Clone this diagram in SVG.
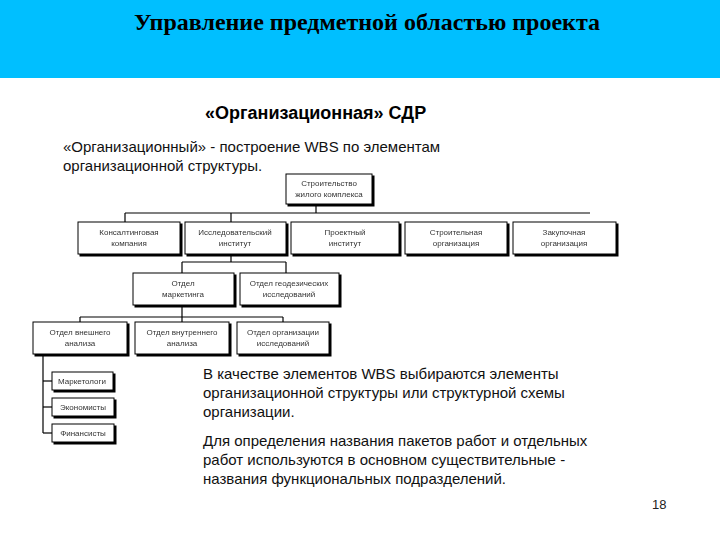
<svg xmlns="http://www.w3.org/2000/svg" width="720" height="540" viewBox="0 0 720 540">
<style>
.b{fill:#fff;stroke:#000;stroke-width:1}
.s{fill:#222}
.t{font-family:"Liberation Sans",Arial,sans-serif;font-size:8px;fill:#333;text-anchor:middle}
.p{font-family:"Liberation Sans",Arial,sans-serif;font-size:15px;fill:#111}
.c line{stroke:#000;stroke-width:1.2}
</style>
<defs>
<filter id="sh" x="-5%" y="-5%" width="115%" height="130%"><feOffset dx="2" dy="2" in="SourceAlpha" result="o"/><feMerge><feMergeNode in="o"/><feMergeNode in="SourceGraphic"/></feMerge></filter>
</defs>
<rect x="0" y="0" width="720" height="78" fill="#00BFFF"/>
<text x="367" y="30" font-family="Liberation Serif,serif" font-weight="bold" font-size="24" text-anchor="middle">Управление предметной областью проекта</text>
<text x="205" y="119" font-family="Liberation Sans,Arial,sans-serif" font-weight="bold" font-size="18">«Организационная» СДР</text>
<text class="p" x="63" y="152">«Организационный» - построение WBS по элементам</text>
<text class="p" x="63" y="171">организационной структуры.</text>
<g class="c">
<line x1="316" y1="205" x2="316" y2="213"/>
<line x1="125" y1="213" x2="590" y2="213"/>
<line x1="125" y1="213" x2="125" y2="222"/>
<line x1="231" y1="213" x2="231" y2="222"/>
<line x1="231" y1="255" x2="231" y2="262"/>
<line x1="182" y1="262" x2="286" y2="262"/>
<line x1="182" y1="262" x2="182" y2="273"/>
<line x1="286" y1="262" x2="286" y2="273"/>
<line x1="182" y1="305" x2="182" y2="317"/>
<line x1="80" y1="317" x2="283" y2="317"/>
<line x1="80" y1="317" x2="80" y2="322"/>
<line x1="182" y1="317" x2="182" y2="322"/>
<line x1="283" y1="317" x2="283" y2="322"/>
<line x1="43" y1="354" x2="43" y2="433"/>
<line x1="43" y1="381" x2="52" y2="381"/>
<line x1="43" y1="407" x2="52" y2="407"/>
<line x1="43" y1="433" x2="52" y2="433"/>
</g>
<g id="n0" filter="url(#sh)"><rect class="b" x="286" y="174" width="86" height="30"/><text class="t" x="329" y="186">Строительство</text><text class="t" x="329" y="197">жилого комплекса</text></g>
<g id="n1" filter="url(#sh)"><rect class="b" x="78" y="222" width="102" height="32"/><text class="t" x="129" y="235">Консалтинговая</text><text class="t" x="129" y="246">компания</text></g>
<g id="n2" filter="url(#sh)"><rect class="b" x="185" y="222" width="101" height="32"/><text class="t" x="235" y="235">Исследовательский</text><text class="t" x="235" y="246">институт</text></g>
<g id="n3" filter="url(#sh)"><rect class="b" x="291" y="222" width="108" height="32"/><text class="t" x="345" y="235">Проектный</text><text class="t" x="345" y="246">институт</text></g>
<g id="n4" filter="url(#sh)"><rect class="b" x="405" y="222" width="102" height="32"/><text class="t" x="456" y="235">Строительная</text><text class="t" x="456" y="246">организация</text></g>
<g id="n5" filter="url(#sh)"><rect class="b" x="513" y="222" width="103" height="32"/><text class="t" x="564" y="235">Закупочная</text><text class="t" x="564" y="246">организация</text></g>
<g id="n6" filter="url(#sh)"><rect class="b" x="133" y="273" width="101" height="32"/><text class="t" x="183" y="286">Отдел</text><text class="t" x="183" y="297">маркетинга</text></g>
<g id="n7" filter="url(#sh)"><rect class="b" x="240" y="273" width="99" height="32"/><text class="t" x="289" y="286">Отдел геодезических</text><text class="t" x="289" y="297">исследований</text></g>
<g id="n8" filter="url(#sh)"><rect class="b" x="33" y="322" width="94" height="32"/><text class="t" x="80" y="335">Отдел внешнего</text><text class="t" x="80" y="346">анализа</text></g>
<g id="n9" filter="url(#sh)"><rect class="b" x="135" y="322" width="94" height="32"/><text class="t" x="182" y="335">Отдел внутреннего</text><text class="t" x="182" y="346">анализа</text></g>
<g id="n10" filter="url(#sh)"><rect class="b" x="237" y="322" width="92" height="32"/><text class="t" x="283" y="335">Отдел организации</text><text class="t" x="283" y="346">исследований</text></g>
<g id="n11" filter="url(#sh)"><rect class="b" x="52" y="372" width="61" height="18"/><text class="t" x="82" y="384">Маркетологи</text></g>
<g id="n12" filter="url(#sh)"><rect class="b" x="52" y="398" width="62" height="18"/><text class="t" x="83" y="410">Экономисты</text></g>
<g id="n13" filter="url(#sh)"><rect class="b" x="52" y="424" width="62" height="18"/><text class="t" x="83" y="436">Финансисты</text></g>
<text class="p" x="203" y="379">В качестве элементов WBS выбираются элементы</text>
<text class="p" x="203" y="398">организационной структуры или структурной схемы</text>
<text class="p" x="203" y="417">организации.</text>
<text class="p" x="203" y="446">Для определения названия пакетов работ и отдельных</text>
<text class="p" x="203" y="465">работ используются в основном существительные -</text>
<text class="p" x="203" y="484">названия функциональных подразделений.</text>
<text x="652" y="509" font-family="Liberation Sans,Arial,sans-serif" font-size="13" fill="#222">18</text>
</svg>
